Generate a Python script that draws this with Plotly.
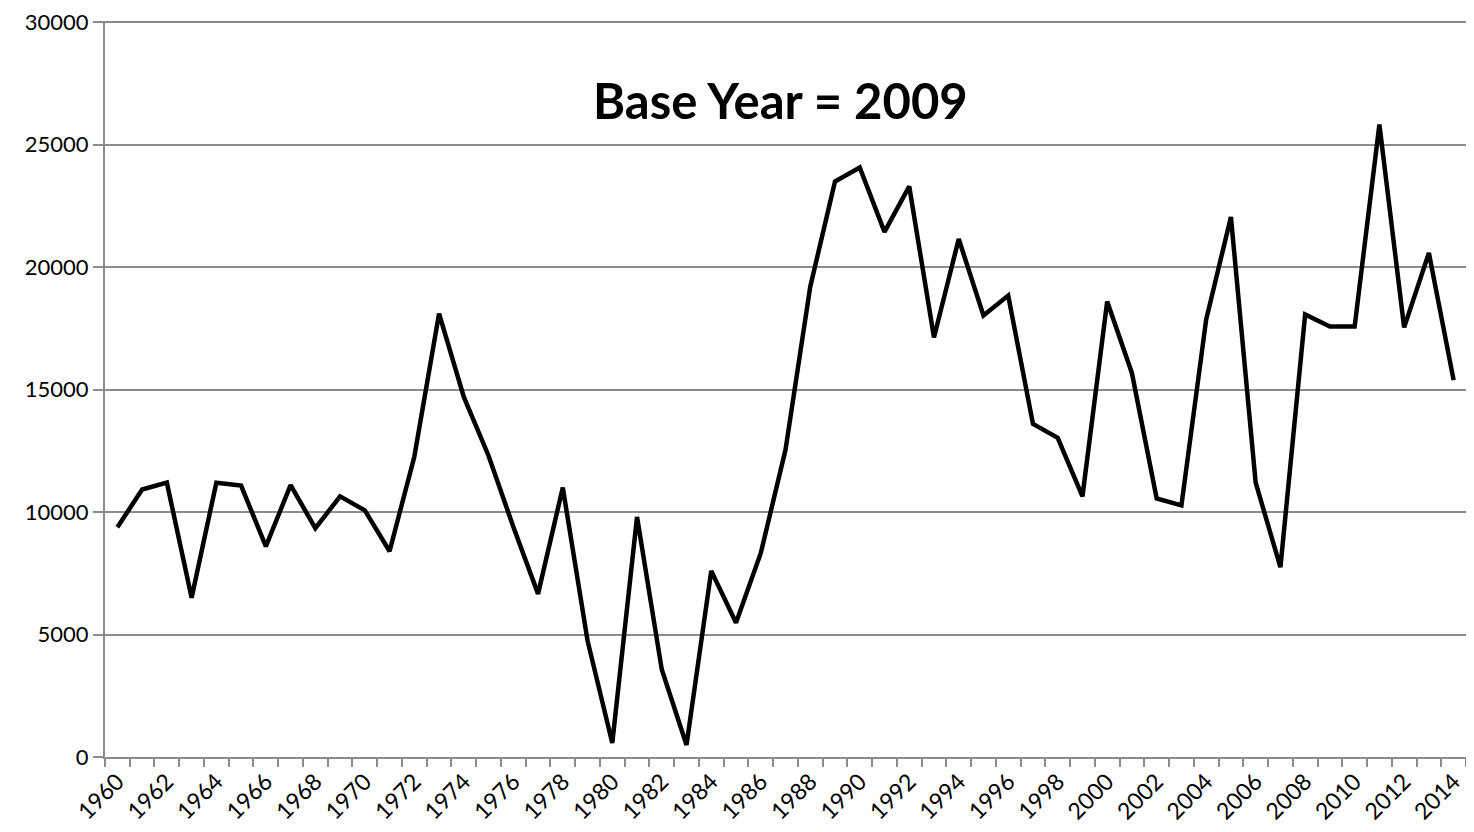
import plotly.graph_objects as go

# values
years = list(range(1960, 2015))
values = [
    9380, 10920, 11200, 6500, 11200, 11080, 8600, 11100, 9340, 10640,
    10070, 8400, 12260, 18100, 14700, 12300, 9400, 6660, 11000, 4750,
    570, 9800, 3570, 490, 7600, 5480, 8320, 12540, 19200, 23500,
    24070, 21440, 23300, 17130, 21150, 18030, 18840, 13600, 13030, 10640,
    18600, 15670, 10560, 10270, 17860, 22050, 11200, 7750, 18070, 17580,
    17580, 25820, 17540, 20580, 15390,
]
label_years = years[::2]
y_ticks = [0, 5000, 10000, 15000, 20000, 25000, 30000]

grey = "#8c8c8c"

fig = go.Figure()
fig.add_trace(
    go.Scatter(
        x=years,
        y=values,
        mode="lines",
        line=dict(color="black", width=4.5),
        showlegend=False,
    )
)

fig.add_annotation(
    text="<b>Base Year = 2009</b>",
    xref="paper",
    yref="paper",
    x=0.496,
    y=0.892,
    xanchor="center",
    yanchor="middle",
    showarrow=False,
    font=dict(size=49, color="black", family="Lato"),
)

# page body has an 8px margin, so the figure is a little smaller than the window
fig.update_layout(
    width=1458,
    height=816,
    margin=dict(l=97, r=0, t=13, b=67),
    plot_bgcolor="white",
    paper_bgcolor="white",
    font=dict(family="Lato", size=23, color="black"),
    xaxis=dict(
        range=[1959.5, 2014.5],
        tickvals=label_years,
        ticktext=[str(y) for y in label_years],
        tickangle=-45,
        ticks="",
        automargin=False,
        ticklabeloverflow="allow",
        showgrid=False,
        showline=True,
        linecolor=grey,
        linewidth=2,
        zeroline=False,
        minor=dict(ticks="outside", tick0=1959.5, dtick=1, ticklen=8, tickcolor=grey, tickwidth=2, showgrid=False),
    ),
    yaxis=dict(
        range=[0, 30050],
        tickvals=y_ticks,
        ticktext=[str(v) for v in y_ticks],
        tickfont=dict(size=22),
        ticks="outside",
        ticklen=10,
        tickcolor=grey,
        tickwidth=2,
        automargin=False,
        ticklabeloverflow="allow",
        showgrid=True,
        gridcolor=grey,
        gridwidth=2,
        showline=True,
        linecolor=grey,
        linewidth=2,
        zeroline=False,
    ),
)

fig.write_html("out.html")
